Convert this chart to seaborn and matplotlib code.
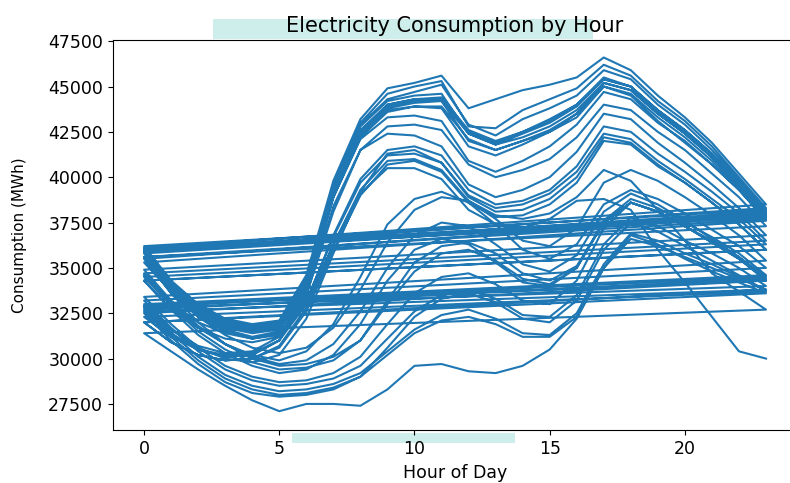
import pandas as pd
import seaborn as sns
from matplotlib import pyplot as plt
from matplotlib.patches import Rectangle

hours = list(range(24))

# hourly consumption (MWh), one list per day, in calendar order
dec01 = [34600, 33000, 31700, 30800, 30200, 29900, 30400, 31900, 34500, 37400, 38800, 39200, 38600, 37400, 36000, 35500, 36300, 38500, 39300, 38800, 38000, 37100, 36200, 35000]
dec02 = [33200, 31700, 30400, 29400, 28800, 28500, 28600, 28900, 29600, 31100, 32600, 33500, 33800, 33300, 32400, 32300, 33500, 36300, 37800, 37300, 36500, 35800, 35000, 34000]
dec03 = [32800, 31400, 30500, 30100, 30200, 31000, 33500, 38100, 41500, 42800, 42900, 42600, 40700, 40000, 40400, 41000, 42200, 44000, 43700, 42500, 41500, 40200, 38900, 37300]
dec04 = [35600, 33700, 32400, 31600, 31200, 31500, 34000, 38900, 42200, 43600, 43900, 43900, 42100, 41500, 42000, 42600, 43500, 45000, 44600, 43300, 42200, 40900, 39400, 37800]
dec05 = [35900, 33900, 32600, 31800, 31500, 31700, 34200, 39200, 42500, 43900, 44200, 44300, 42500, 41900, 42500, 43100, 44000, 45400, 45000, 43600, 42500, 41100, 39600, 37900]
dec06 = [35500, 33600, 32000, 30800, 30000, 29600, 29700, 30100, 31000, 33000, 34800, 35800, 36000, 35400, 34400, 34100, 35000, 37600, 38800, 38300, 37500, 36700, 35800, 34600]
dec07 = [33000, 31600, 30600, 30000, 29800, 30200, 32200, 35800, 39200, 41300, 41500, 40800, 39000, 38300, 38500, 39100, 40300, 42400, 42100, 40900, 39900, 38800, 37700, 36300]
dec08 = [34500, 32900, 31500, 30500, 29800, 29400, 29500, 29900, 31000, 33200, 35300, 36200, 36400, 35800, 34700, 34300, 35100, 37500, 38600, 38100, 37300, 36500, 35600, 34500]
dec09 = [32900, 31400, 30100, 29100, 28500, 28200, 28300, 28600, 29200, 30400, 31600, 32400, 32700, 32200, 31400, 31300, 32500, 35200, 36900, 36500, 35800, 35200, 34500, 33800]
dec10 = [32600, 31300, 30500, 30100, 30200, 31000, 33700, 38900, 42300, 43800, 44100, 44200, 42400, 41800, 42200, 42800, 43700, 45200, 44800, 43500, 42400, 41100, 39500, 37900]
dec11 = [36000, 34100, 32800, 32000, 31700, 31900, 34300, 39500, 42900, 44300, 44700, 45100, 42900, 42300, 43200, 43800, 44500, 45900, 45400, 44000, 42900, 41500, 39900, 38200]
dec12 = [36200, 34300, 33000, 32200, 31900, 32100, 34600, 39800, 43200, 44900, 45200, 45600, 43800, 44300, 44800, 45100, 45500, 46600, 45900, 44500, 43300, 41900, 40200, 38500]
dec13 = [36100, 34200, 32900, 32100, 31800, 32000, 34400, 39600, 43000, 44600, 45000, 45300, 42800, 42700, 43700, 44300, 44900, 46200, 45600, 44200, 43100, 41700, 40000, 38300]
dec14 = [36000, 34000, 32700, 31900, 31600, 31800, 34100, 39300, 42600, 44000, 44300, 44200, 42000, 41500, 42000, 42500, 43300, 45000, 44500, 43100, 41900, 40700, 39300, 37600]
dec15 = [35300, 33700, 32300, 31300, 30600, 30300, 30600, 31700, 33800, 36400, 38200, 38900, 38700, 37700, 36500, 36200, 37200, 39700, 40400, 39800, 38900, 37900, 36800, 35400]
dec16 = [33400, 31900, 30600, 29600, 29000, 28700, 28800, 29200, 30100, 31900, 33600, 34500, 34700, 34100, 33200, 33000, 34300, 37200, 38600, 38100, 37300, 36400, 35500, 34300]
dec17 = [32900, 31600, 30700, 30300, 30400, 31200, 33900, 39100, 42500, 44000, 44300, 44400, 42600, 42000, 42500, 43200, 44000, 45500, 45000, 43700, 42600, 41300, 39700, 38000]
dec18 = [36000, 34100, 32800, 32000, 31700, 31900, 34300, 39400, 42800, 44200, 44500, 44600, 42400, 41800, 42400, 43000, 43900, 45400, 45000, 43700, 42600, 41300, 39800, 38100]
dec19 = [35900, 33900, 32600, 31800, 31500, 31700, 34000, 39100, 42400, 43700, 43900, 43800, 41700, 41200, 41800, 42500, 43500, 45200, 44800, 43500, 42400, 41100, 39600, 37900]
dec20 = [35800, 33800, 32500, 31700, 31400, 31600, 33900, 38900, 42100, 43300, 43400, 43100, 40900, 40300, 40900, 41700, 42900, 44700, 44300, 43000, 42000, 40700, 39300, 37700]
dec21 = [35600, 33600, 32300, 31500, 31100, 31300, 33500, 38400, 41500, 42400, 42300, 41700, 39600, 38900, 39300, 40000, 41400, 43500, 43200, 41900, 40800, 39600, 38300, 36800]
dec22 = [34900, 33200, 31800, 30800, 30100, 29700, 29900, 30800, 32600, 35000, 36800, 37500, 37300, 36300, 35200, 34800, 35700, 38100, 39100, 38500, 37600, 36600, 35600, 34300]
dec23 = [32500, 31000, 29700, 28700, 28100, 27900, 28000, 28300, 29000, 30200, 31400, 32100, 32300, 31900, 31200, 31200, 32300, 35000, 36600, 36200, 35600, 35000, 34400, 33800]
dec24 = [32000, 30900, 30200, 29900, 30000, 30700, 32800, 36300, 39300, 40900, 41000, 40400, 38700, 37900, 37700, 38000, 38900, 40400, 39800, 38200, 36500, 34700, 33700, 32700]
dec25 = [31400, 30400, 29400, 28500, 27700, 27100, 27500, 27500, 27400, 28300, 29600, 29700, 29300, 29200, 29600, 30500, 32200, 35000, 36800, 36300, 35500, 34800, 34200, 33600]
dec26 = [32000, 30900, 30200, 29900, 30000, 30600, 32600, 36000, 39000, 40700, 40900, 40300, 38600, 37800, 37900, 38500, 39700, 42000, 41800, 40600, 39700, 38600, 37400, 36000]
dec27 = [34300, 32700, 31700, 31100, 30900, 31200, 33100, 36800, 39900, 41500, 41700, 41200, 39300, 38500, 38700, 39300, 40600, 42800, 42500, 41300, 40300, 39200, 38000, 36500]
dec28 = [34700, 33100, 32000, 31400, 31100, 31400, 33200, 36700, 39700, 41200, 41300, 40800, 38900, 38100, 38200, 38800, 40000, 42200, 41900, 40700, 39700, 38600, 37400, 36000]
dec29 = [34300, 32700, 31300, 30300, 29600, 29200, 29400, 30200, 31900, 34300, 36000, 36600, 36300, 35300, 34200, 34000, 35000, 37500, 38600, 38100, 37300, 36400, 35500, 34400]
dec30 = [32700, 31200, 29900, 28900, 28300, 28000, 28100, 28400, 29000, 30600, 32300, 33300, 33600, 33100, 32200, 32000, 33200, 36000, 37500, 37000, 36200, 35400, 34600, 33700]
dec31 = [32300, 31200, 30500, 30200, 30300, 31000, 33000, 36300, 39100, 40500, 40500, 39900, 38200, 37400, 37200, 37700, 38700, 38800, 38200, 36000, 34200, 32300, 30400, 30000]

days = [dec01, dec02, dec03, dec04, dec05, dec06, dec07, dec08, dec09, dec10,
        dec11, dec12, dec13, dec14, dec15, dec16, dec17, dec18, dec19, dec20,
        dec21, dec22, dec23, dec24, dec25, dec26, dec27, dec28, dec29, dec30, dec31]

df = pd.DataFrame({
    "hour": hours * len(days),
    "consumption": [v for day in days for v in day],
})

fig = plt.figure(figsize=(7.9, 4.83), dpi=100)
ax = fig.add_axes([0.143, 0.110, 0.866, 0.807])

# one continuous line, so each day's 23h joins the next day's 0h
sns.lineplot(data=df, x="hour", y="consumption", sort=False, estimator=None,
             color="#1f77b4", linewidth=1.5, ax=ax)

ax.set_ylim(26070, 47560)
ax.set_title("Electricity Consumption by Hour", fontsize=15)
ax.set_xlabel("Hour of Day", fontsize=12.5, labelpad=4.5)
ax.set_ylabel("Consumption (MWh)", fontsize=11, labelpad=15)
ax.tick_params(labelsize=12.5)

# highlight bands behind the title and x label
for x0, y0, w, h in [(0.2696, 0.9193, 0.481, 0.0414), (0.3696, 0.0828, 0.2823, 0.0207)]:
    fig.patches.append(Rectangle((x0, y0), w, h, transform=fig.transFigure,
                                 facecolor="#cdeeea", edgecolor="none", zorder=-1))

fig.savefig("out.png", dpi=100)
